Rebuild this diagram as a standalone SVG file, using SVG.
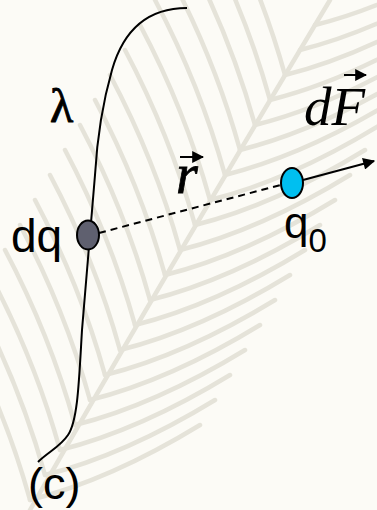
<svg xmlns="http://www.w3.org/2000/svg" width="377" height="510" viewBox="0 0 377 510">
<defs>
<style>
.bg{fill:#fcfbf6}
.barb{fill:none;stroke:#e5e3d9;stroke-width:4.5;stroke-linecap:round}
.line{fill:none;stroke:#000;stroke-width:2}
.sans{font-family:"Liberation Sans",Arial,sans-serif;fill:#000}
.serif{font-family:"Liberation Serif","Times New Roman",serif;fill:#000}
</style>
<marker id="ah" viewBox="0 0 10 10" refX="9" refY="5" markerWidth="7" markerHeight="6" orient="auto" markerUnits="strokeWidth">
<path d="M0 0 L10 5 L0 10 Z" fill="#000"/>
</marker>
<marker id="sh" viewBox="0 0 10 10" refX="9" refY="5" markerWidth="6" markerHeight="6" orient="auto" markerUnits="strokeWidth">
<path d="M0 0 L10 5 L0 10 Z" fill="#000"/>
</marker>
</defs>
<rect class="bg" x="0" y="0" width="377" height="510"/>
<g id="background">
<path class="barb" stroke-width="6" d="M30 510 Q150 300 330 0"/>
<path class="barb" d="M30 500 q80 -20 170 -75 M45 475 q80 -20 170 -75 M60 450 q80 -20 170 -75 M75 425 q80 -20 170 -75 M90 400 q80 -20 170 -75 M105 375 q80 -20 170 -75 M120 350 q80 -20 170 -75 M135 325 q80 -20 170 -75 M150 300 q80 -20 170 -75 M165 275 q80 -20 170 -75 M180 250 q80 -20 170 -75 M195 225 q80 -20 170 -75 M210 200 q80 -20 170 -75 M225 175 q80 -20 170 -75 M240 150 q80 -20 170 -75 M255 125 q80 -20 170 -75 M270 100 q80 -20 170 -75 M285 75 q80 -20 170 -75 M300 50 q80 -20 170 -75 M315 25 q80 -20 170 -75"/>
<path class="barb" d="M30 500 q-25 -90 -70 -175 M45 475 q-25 -90 -70 -175 M60 450 q-25 -90 -70 -175 M75 425 q-25 -90 -70 -175 M90 400 q-25 -90 -70 -175 M105 375 q-25 -90 -70 -175 M120 350 q-25 -90 -70 -175 M135 325 q-25 -90 -70 -175 M150 300 q-25 -90 -70 -175 M165 275 q-25 -90 -70 -175 M180 250 q-25 -90 -70 -175 M195 225 q-25 -90 -70 -175 M210 200 q-25 -90 -70 -175 M225 175 q-25 -90 -70 -175 M240 150 q-25 -90 -70 -175 M255 125 q-25 -90 -70 -175 M270 100 q-25 -90 -70 -175 M285 75 q-25 -90 -70 -175"/>
</g>
<g id="connectors">
<path class="line" d="M187 8 C150 8 124 28 112 70 C102 105 97 140 95 175 L82 330 C79 380 78 420 68 435 C60 447 48 452 38 462"/>
<path d="M99 233 L288 183" fill="none" stroke="#000" stroke-width="2" stroke-dasharray="7,5"/>
<path class="line" d="M303 180 L374 161" marker-end="url(#ah)"/>
</g>
<g id="dq">
<ellipse cx="88" cy="235" rx="11" ry="14.5" fill="#5f606f" stroke="#000" stroke-width="2"/>
<text class="sans" x="11" y="252" font-size="46">dq</text>
</g>
<g id="q0">
<ellipse cx="292" cy="183" rx="11" ry="15" fill="#00bff0" stroke="#000" stroke-width="2"/>
<text class="sans" x="284" y="238" font-size="44">q<tspan font-size="33" dy="14">0</tspan></text>
</g>
<g id="labels">
<text class="serif" x="50" y="122" font-size="48" stroke="#000" stroke-width="0.9">λ</text>
<text class="serif" x="304" y="125" font-size="55" font-style="italic">dF</text>
<path class="line" stroke-width="1.5" d="M344 75 L366 75" marker-end="url(#sh)"/>
<text class="serif" x="176" y="193" font-size="56" font-style="italic" stroke="#000" stroke-width="0.8">r</text>
<path class="line" stroke-width="1.5" d="M180 157 L203 157" marker-end="url(#sh)"/>
<text class="sans" x="28" y="499" font-size="45">(c)</text>
</g>
</svg>
